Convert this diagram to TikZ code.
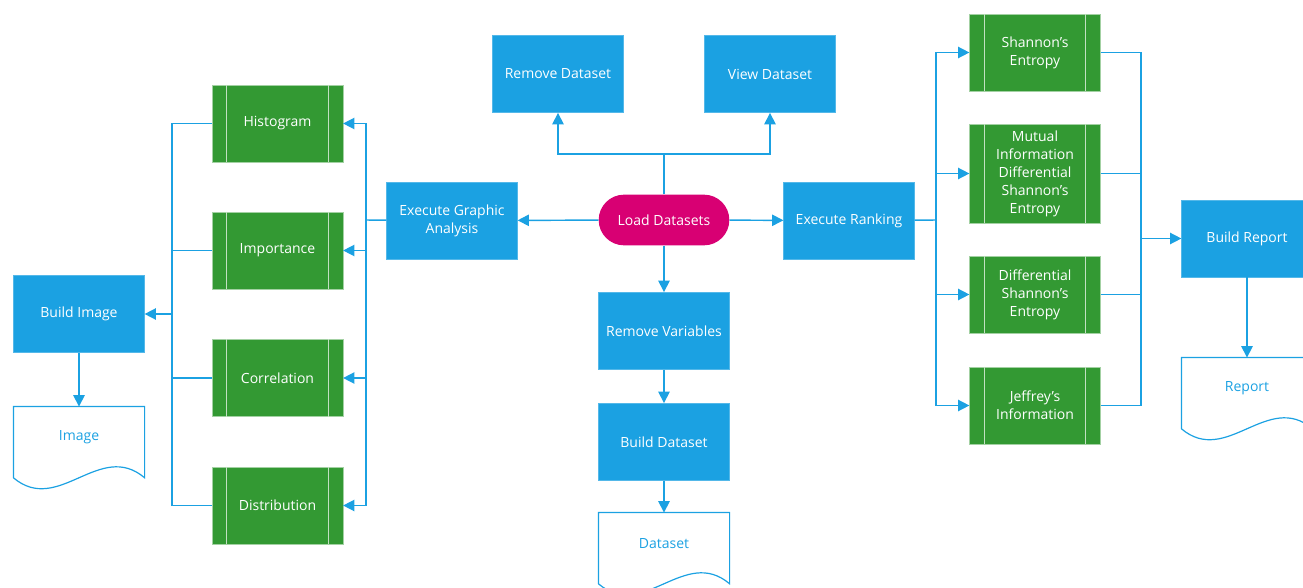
\documentclass[tikz,border=0pt]{standalone}
\usepackage{fontspec}
\setmainfont{Open Sans}
\usetikzlibrary{arrows.meta}

\definecolor{metroblue}{RGB}{27,161,226}
\definecolor{metrogreen}{RGB}{51,153,51}
\definecolor{metromagenta}{RGB}{216,0,115}

\tikzset{
    % blue process boxes
    process/.style={fill=metroblue, draw=metroblue!75!white, text=white, align=center,
        minimum width=98pt, minimum height=58pt, inner sep=2pt},
    % green predefined process boxes (lines drawn later)
    subproc/.style={fill=metrogreen, draw=metrogreen!45!white, text=white, align=center,
        minimum width=98pt, minimum height=58pt, inner sep=2pt},
    terminal/.style={fill=metromagenta, text=white, rounded corners=19pt,
        minimum width=98pt, minimum height=38pt},
    % document text area, the wavy edge hangs below it
    docnode/.style={text=metroblue, minimum width=98pt, minimum height=46pt},
    flow/.style={draw=metroblue, line width=1.1pt},
    arr/.style={flow, -{Triangle[length=8.5pt,width=8.5pt]}},
}

\begin{document}
\begin{tikzpicture}[x=0.75pt,y=0.75pt,yscale=-1,font=\fontsize{10.5}{13.5}\selectfont]
\useasboundingbox (0,0) rectangle (1303,588);

% centre column
\node[terminal] (load) at (664,220) {Load Datasets};
\node[process] (rmds) at (558,74) {Remove Dataset};
\node[process] (vwds) at (770,74) {View Dataset};
\node[process] (exg) at (452,220.5) {Execute Graphic\\Analysis};
\node[process] (exr) at (849,220.5) {Execute Ranking};
\node[process] (rmvar) at (664,331) {Remove Variables};
\node[process] (bds) at (664,442) {Build Dataset};
\node[docnode] (dsdoc) at (664,543.5) {Dataset};

% graphic analysis
\node[subproc] (hist) at (277.5,123.5) {Histogram};
\node[subproc] (imp) at (277.5,250.5) {Importance};
\node[subproc] (corr) at (277.5,378) {Correlation};
\node[subproc] (dist) at (277.5,505.5) {Distribution};
\node[process] (bimg) at (79,314) {Build Image};
\node[docnode] (imgdoc) at (79,437.5) {Image};

% ranking
\node[subproc] (shan) at (1035,52.5) {Shannon's\\Entropy};
\node[subproc, minimum height=74pt] (mutual) at (1035,173.5) {Mutual\\Information\\Differential\\Shannon's\\Entropy};
\node[subproc] (diffs) at (1035,294.5) {Differential\\Shannon's\\Entropy};
\node[subproc] (jeff) at (1035,405.5) {Jeffrey's\\Information};
\node[process] (brep) at (1247,238.5) {Build Report};
\node[docnode] (repdoc) at (1247,388.5) {Report};

% bus points
\coordinate (split) at (664,154);
\coordinate (gbus) at (366,220);
\coordinate (lbus) at (172,314);
\coordinate (rbus) at (936,220);
\coordinate (obus) at (1141,238.5);

% lines inside the green boxes
\foreach \n in {hist,imp,corr,dist,shan,mutual,diffs,jeff}{
    \draw[metrogreen!30!white, line width=0.8pt] ([xshift=11pt]\n.north west) -- ([xshift=11pt]\n.south west);
    \draw[metrogreen!30!white, line width=0.8pt] ([xshift=-11pt]\n.north east) -- ([xshift=-11pt]\n.south east);
}

% document outlines (yshift is flipped by yscale=-1)
\foreach \n in {imgdoc,dsdoc,repdoc}
    \draw[flow, line width=0.9pt] ([yshift=7pt]\n.south west) -- (\n.north west) -- (\n.north east) -- ([yshift=7pt]\n.south east)
        .. controls +(-45,-38) and +(45,38) .. ([yshift=7pt]\n.south west);

% connectors from Load Datasets
\draw[flow] (load) -- (split);
\draw[arr] (split) -| (rmds);
\draw[arr] (split) -| (vwds);
\draw[arr] (load) -- (exg);
\draw[arr] (load) -- (exr);
\draw[arr] (load) -- (rmvar);
\draw[arr] (rmvar) -- (bds);
\draw[arr] (bds) -- (dsdoc);

% graphic analysis
\draw[flow] (exg) -- (gbus);
\foreach \n in {hist,imp,corr,dist}{
    \draw[arr] (gbus) |- (\n);
    \draw[flow] (\n) -| (lbus);
}
\draw[arr] (lbus) -- (bimg);
\draw[arr] (bimg) -- (imgdoc);

% ranking
\draw[flow] (exr) -- (rbus);
\foreach \n in {shan,mutual,diffs,jeff}{
    \draw[arr] (rbus) |- (\n);
    \draw[flow] (\n) -| (obus);
}
\draw[arr] (obus) -- (brep);
\draw[arr] (brep) -- (repdoc);

\end{tikzpicture}
\end{document}
